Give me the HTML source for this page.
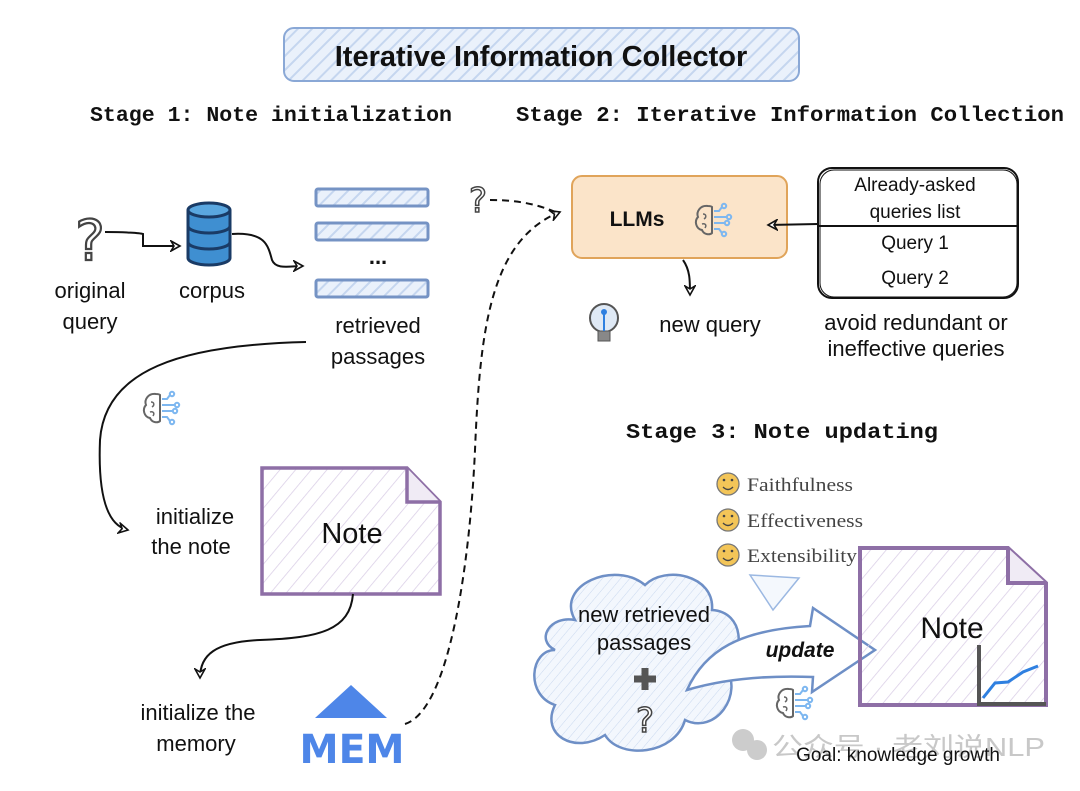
<!DOCTYPE html>
<html><head><meta charset="utf-8"><style>
html,body{margin:0;padding:0;background:#fff;}
svg{display:block;}
.s{font-family:"Liberation Sans",sans-serif;font-size:22px;fill:#111;}
.m{font-family:"Liberation Mono",monospace;font-weight:bold;font-size:21.7px;fill:#111;}
.t{font-family:"Liberation Sans",sans-serif;font-size:19px;fill:#111;}
.r{font-family:"Liberation Serif",serif;font-size:19px;fill:#444;}
</style></head><body>
<svg width="1080" height="791" viewBox="0 0 1080 791" xmlns="http://www.w3.org/2000/svg">
<defs>
<pattern id="hb" width="10" height="10" patternUnits="userSpaceOnUse" patternTransform="rotate(45)"><rect width="10" height="10" fill="#eaf1fb"/><line x1="0" y1="0" x2="0" y2="10" stroke="#c5d6ef" stroke-width="4"/></pattern>
<pattern id="hp" width="12" height="12" patternUnits="userSpaceOnUse" patternTransform="rotate(40)"><line x1="0" y1="0" x2="0" y2="12" stroke="#d9cde6" stroke-width="1.5"/></pattern>
<pattern id="hc" width="7" height="7" patternUnits="userSpaceOnUse" patternTransform="rotate(40)"><rect width="7" height="7" fill="#f3f7fd"/><line x1="0" y1="0" x2="0" y2="7" stroke="#c9d8ef" stroke-width="1"/></pattern>
<g id="brain">
<path d="M-4,-14 C-12,-15 -16,-8 -14,-3 C-18,1 -16,9 -10,10 C-8,15 -2,15 0,13 L0,-13 C-1,-14 -3,-14 -4,-14 Z" fill="none" stroke="#666" stroke-width="2"/>
<path d="M-9,-6 c3,0 4,3 1,5 M-10,4 c3,-1 5,1 3,4" fill="none" stroke="#666" stroke-width="1.5"/>
<g stroke="#7db7f0" stroke-width="2" fill="none"><path d="M2,-9 h5 l3,-4 M2,-3 h12 M2,3 h10 M2,9 h5 l3,4"/><circle cx="12" cy="-14" r="2.2"/><circle cx="17" cy="-3" r="2.2"/><circle cx="15" cy="3" r="2.2"/><circle cx="12" cy="14" r="2.2"/></g>
</g>
<marker id="ah" markerWidth="12" markerHeight="12" refX="10" refY="6" orient="auto" markerUnits="userSpaceOnUse"><path d="M1,1 L10,6 L1,11 L4,6 Z" fill="#fff" stroke="#111" stroke-width="1.6"/></marker>
</defs>

<!-- title -->
<rect x="284" y="28" width="515" height="53" rx="10" fill="url(#hb)" stroke="#8aa8d6" stroke-width="2"/>
<text x="541" y="66" text-anchor="middle" font-family="Liberation Sans,sans-serif" font-weight="bold" font-size="29" fill="#111">Iterative Information Collector</text>

<text class="m" x="90" y="121" textLength="362" lengthAdjust="spacingAndGlyphs">Stage 1: Note initialization</text>
<text class="m" x="516" y="121" textLength="548" lengthAdjust="spacingAndGlyphs">Stage 2: Iterative Information Collection</text>
<text class="m" x="626" y="438" textLength="312" lengthAdjust="spacingAndGlyphs">Stage 3: Note updating</text>

<!-- question mark -->
<text x="90" y="260" text-anchor="middle" font-family="DejaVu Sans,sans-serif" font-size="56" fill="#fff" stroke="#444" stroke-width="2.2">?</text>
<path d="M105,232 C125,232 140,233 143,234 L143,246 L180,246" fill="none" stroke="#111" stroke-width="2" marker-end="url(#ah)"/>
<!-- cylinder -->
<g stroke="#1a3b66" stroke-width="3" fill="#3f8fd1">
<path d="M188,210 L188,258 A21,7 0 0 0 230,258 L230,210"/>
<ellipse cx="209" cy="210" rx="21" ry="7" fill="#5aa7e0"/>
<path d="M188,226 A21,7 0 0 0 230,226 M188,242 A21,7 0 0 0 230,242" fill="none"/>
</g>
<path d="M232,234 C265,232 268,245 272,260 C276,270 290,266 303,266" fill="none" stroke="#111" stroke-width="2" marker-end="url(#ah)"/>
<!-- passages -->
<g fill="url(#hb)" stroke="#7593c4" stroke-width="3">
<rect x="316" y="189" width="112" height="17" rx="2"/>
<rect x="316" y="223" width="112" height="17" rx="2"/>
<rect x="316" y="280" width="112" height="17" rx="2"/>
</g>
<text x="378" y="264" text-anchor="middle" class="s" font-weight="bold">...</text>
<text class="s" x="90" y="298" text-anchor="middle">original</text>
<text class="s" x="90" y="329" text-anchor="middle">query</text>
<text class="s" x="212" y="298" text-anchor="middle">corpus</text>
<text class="s" x="378" y="333" text-anchor="middle">retrieved</text>
<text class="s" x="378" y="364" text-anchor="middle">passages</text>

<!-- curve to note -->
<path d="M306,342 C180,345 105,370 100,440 C98,490 105,525 128,530" fill="none" stroke="#111" stroke-width="2" marker-end="url(#ah)"/>
<use href="#brain" x="160" y="408"/>
<text class="s" x="195" y="524" text-anchor="middle">initialize</text>
<text class="s" x="191" y="554" text-anchor="middle">the note</text>

<!-- note 1 -->
<path d="M262,468 L407,468 L440,502 L440,594 L262,594 Z" fill="url(#hp)" stroke="#8e6fa6" stroke-width="3.5"/>
<path d="M407,468 L407,502 L440,502" fill="#f0ebf5" stroke="#8e6fa6" stroke-width="3.5"/>
<text x="352" y="543" text-anchor="middle" font-family="Liberation Sans,sans-serif" font-size="29" fill="#111">Note</text>
<path d="M353,594 C350,630 320,638 260,640 C215,642 200,655 200,678" fill="none" stroke="#111" stroke-width="2" marker-end="url(#ah)"/>
<text class="s" x="198" y="720" text-anchor="middle">initialize the</text>
<text class="s" x="196" y="751" text-anchor="middle">memory</text>
<!-- MEM -->
<path d="M315,718 L351,685 L387,718 Z" fill="#4e86e8"/>
<text x="352" y="763" text-anchor="middle" font-family="DejaVu Sans,sans-serif" font-weight="bold" font-size="40" fill="#4e86e8" textLength="105" lengthAdjust="spacingAndGlyphs">MEM</text>
<!-- dashed -->
<path d="M405,724 C450,710 470,560 475,450 C480,330 490,240 560,212" fill="none" stroke="#111" stroke-width="2" stroke-dasharray="7,5" marker-end="url(#ah)"/>
<text x="478" y="212" text-anchor="middle" font-family="DejaVu Sans,sans-serif" font-size="34" fill="#fff" stroke="#444" stroke-width="1.5">?</text>
<path d="M490,200 C520,200 540,205 560,214" fill="none" stroke="#111" stroke-width="2" stroke-dasharray="7,5"/>

<!-- LLM box -->
<rect x="572" y="176" width="215" height="82" rx="10" fill="#fbe4c9" stroke="#e0a45a" stroke-width="2"/>
<text x="637" y="226" text-anchor="middle" font-family="Liberation Sans,sans-serif" font-weight="bold" font-size="21" fill="#111">LLMs</text>
<use href="#brain" x="712" y="220"/>
<path d="M818,224 L768,225" fill="none" stroke="#111" stroke-width="2" marker-end="url(#ah)"/>
<path d="M683,260 C690,270 690,280 690,295" fill="none" stroke="#111" stroke-width="2" marker-end="url(#ah)"/>
<!-- list box -->
<rect x="818" y="168" width="200" height="130" rx="14" fill="#fff" stroke="#111" stroke-width="2"/>
<rect x="820" y="170" width="197" height="127" rx="14" fill="none" stroke="#111" stroke-width="1"/>
<line x1="818" y1="226" x2="1018" y2="226" stroke="#111" stroke-width="2"/>
<text class="t" x="915" y="191" text-anchor="middle">Already-asked</text>
<text class="t" x="915" y="218" text-anchor="middle">queries list</text>
<text class="t" x="915" y="249" text-anchor="middle">Query 1</text>
<text class="t" x="915" y="284" text-anchor="middle">Query 2</text>
<text class="s" x="916" y="330" text-anchor="middle" font-size="20">avoid redundant or</text>
<text class="s" x="916" y="356" text-anchor="middle" font-size="20">ineffective queries</text>
<!-- bulb -->
<circle cx="604" cy="318" r="14" fill="#dfe9f5" stroke="#555" stroke-width="2"/>
<rect x="598" y="331" width="12" height="10" fill="#888" stroke="#555"/>
<line x1="604" y1="313" x2="604" y2="331" stroke="#2f80e0" stroke-width="2"/>
<circle cx="604" cy="312" r="3" fill="#2f80e0"/>
<text class="s" x="710" y="332" text-anchor="middle">new query</text>

<!-- stage3 criteria -->
<g fill="#f3c558" stroke="#777" stroke-width="1.3">
<circle cx="728" cy="484" r="11"/><circle cx="728" cy="520" r="11"/><circle cx="728" cy="555" r="11"/></g>
<g fill="none" stroke="#444" stroke-width="1.3">
<path d="M723,487 q5,5 10,0 M723,523 q5,5 10,0 M723,558 q5,5 10,0"/></g>
<g fill="#444"><circle cx="724" cy="480" r="1.3"/><circle cx="732" cy="480" r="1.3"/><circle cx="724" cy="516" r="1.3"/><circle cx="732" cy="516" r="1.3"/><circle cx="724" cy="551" r="1.3"/><circle cx="732" cy="551" r="1.3"/></g>
<text class="r" x="747" y="491" textLength="106" lengthAdjust="spacingAndGlyphs">Faithfulness</text>
<text class="r" x="747" y="527" textLength="116" lengthAdjust="spacingAndGlyphs">Effectiveness</text>
<text class="r" x="747" y="562" textLength="110" lengthAdjust="spacingAndGlyphs">Extensibility</text>
<path d="M750,575 L799,578 L773,610 Z" fill="#f4f8fd" stroke="#9bb8e2" stroke-width="1.5"/>

<!-- cloud -->
<path d="M575,620 C555,585 615,560 645,585 C665,565 715,575 712,610 C745,612 745,655 725,665 C745,695 715,735 685,720 C675,755 620,760 605,735 C575,755 540,735 555,705 C525,695 530,650 555,650 C535,640 550,615 575,620 Z" fill="url(#hc)" stroke="#6e8fc6" stroke-width="2.5"/>
<text class="s" x="644" y="622" text-anchor="middle" font-size="19">new retrieved</text>
<text class="s" x="644" y="650" text-anchor="middle" font-size="19">passages</text>
<path d="M645,668 v22 M634,679 h22" stroke="#555" stroke-width="7"/>
<text x="645" y="732" text-anchor="middle" font-family="DejaVu Sans,sans-serif" font-size="34" fill="#fff" stroke="#444" stroke-width="1.5">?</text>

<!-- update arrow -->
<path d="M687,690 C705,650 740,630 810,626 L813,608 L875,650 L812,692 L813,677 C760,675 720,680 687,690 Z" fill="#fff" stroke="#6e8fc6" stroke-width="2.5"/>
<text x="800" y="657" text-anchor="middle" font-family="Liberation Sans,sans-serif" font-weight="bold" font-style="italic" font-size="21" fill="#111">update</text>
<use href="#brain" x="793" y="703"/>

<!-- note 2 -->
<path d="M860,548 L1008,548 L1046,583 L1046,705 L860,705 Z" fill="url(#hp)" stroke="#8e6fa6" stroke-width="4"/>
<path d="M1008,548 L1008,583 L1046,583" fill="#f0ebf5" stroke="#8e6fa6" stroke-width="4"/>
<text x="952" y="638" text-anchor="middle" font-family="Liberation Sans,sans-serif" font-size="30" fill="#111">Note</text>
<path d="M979,645 L979,704 L1046,704" fill="none" stroke="#555" stroke-width="4"/>
<path d="M983,698 L995,683 L1008,682 L1023,672 L1038,666" fill="none" stroke="#2f80e0" stroke-width="3"/>

<!-- watermark + goal -->
<text x="772" y="756" font-family="Liberation Sans,'Noto Sans CJK SC',sans-serif" font-size="26" fill="#c8c8c8" textLength="273" lengthAdjust="spacingAndGlyphs">公众号 · 老刘说NLP</text>
<circle cx="743" cy="740" r="11" fill="#ccc"/><circle cx="757" cy="750" r="10" fill="#ccc"/>
<text x="898" y="761" text-anchor="middle" font-family="Liberation Sans,sans-serif" font-size="19" fill="#111">Goal: knowledge growth</text>
</svg>
</body></html>
